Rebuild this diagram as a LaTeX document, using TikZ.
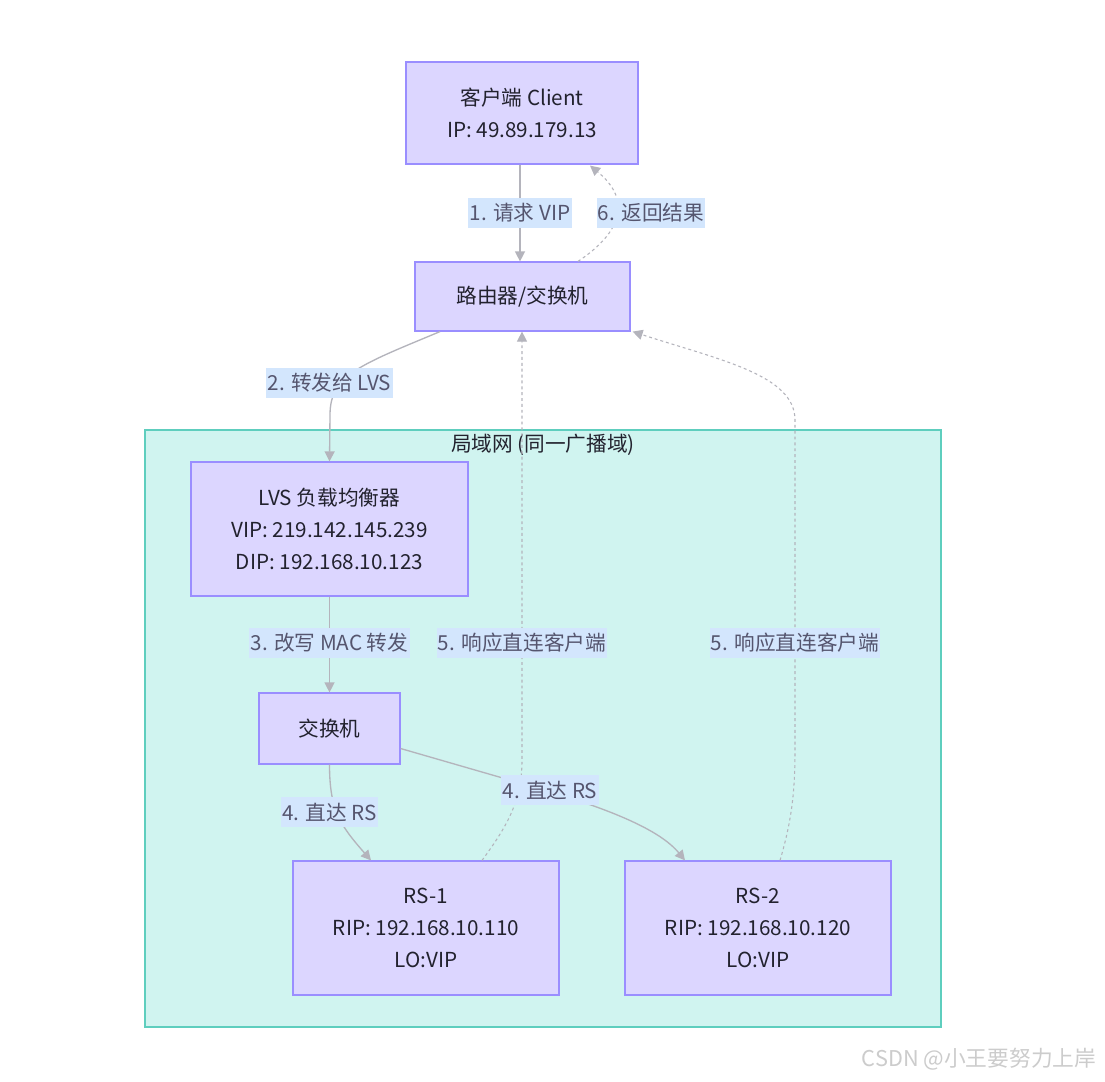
\documentclass[tikz,border=0pt]{standalone}
\usepackage{fontspec}
\setmainfont{Noto Sans CJK SC}
\usetikzlibrary{arrows.meta,calc}
\definecolor{nodefill}{HTML}{DCD6FF}
\definecolor{nodedraw}{HTML}{9A8EFF}
\definecolor{clusterfill}{HTML}{D0F4F0}
\definecolor{clusterdraw}{HTML}{5ECEBE}
\definecolor{labelbg}{HTML}{D3E6FD}
\definecolor{edgecol}{HTML}{B4B4BC}
\definecolor{nodetext}{HTML}{22222E}
\definecolor{labeltext}{HTML}{55556E}
\tikzset{
  box/.style={draw=nodedraw, fill=nodefill, line width=0.9pt, align=center,
    text=nodetext, font=\fontsize{15.5pt}{24pt}\selectfont, inner sep=0pt},
  elabel/.style={fill=labelbg, text=labeltext, font=\fontsize{15.5pt}{18pt}\selectfont,
    inner xsep=1pt, inner ysep=0pt, minimum height=23pt},
  solidedge/.style={draw=edgecol, line width=1pt, -{Triangle[length=7.5pt,width=7.5pt]}},
  dashedge/.style={draw=edgecol, line width=0.8pt, dash pattern=on 2.2pt off 2.2pt,
    -{Triangle[length=7.5pt,width=7.5pt,fill=edgecol]}},
}
\begin{document}
\begin{tikzpicture}[x=0.75pt,y=-0.75pt]
\useasboundingbox[fill=white] (0,0) rectangle (1105,1081);
% cluster
\node[draw=clusterdraw, fill=clusterfill, line width=0.8pt, minimum width=597pt, minimum height=447.75pt, inner sep=0pt] (lan) at (543,728.5) {};
\node[text=nodetext, font=\fontsize{15.5pt}{18pt}\selectfont] (lantitle) at (543,445) {局域网 (同一广播域)};
% nodes
\node[box, minimum width=174pt, minimum height=76.5pt] (client) at (522,113) {客户端 Client\\IP: 49.89.179.13};
\node[box, minimum width=161.25pt, minimum height=51.75pt] (router) at (522.5,296.5) {路由器/交换机};
\node[box, minimum width=207.75pt, minimum height=100.5pt] (lvs) at (329.5,529) {LVS 负载均衡器\\VIP: 219.142.145.239\\DIP: 192.168.10.123};
\node[box, minimum width=105.75pt, minimum height=53.25pt] (switch) at (329.5,728.5) {交换机};
\node[box, minimum width=199.5pt, minimum height=100.5pt] (rs1) at (426,928) {RS-1\\RIP: 192.168.10.110\\LO:VIP};
\node[box, minimum width=199.5pt, minimum height=100.5pt] (rs2) at (758,928) {RS-2\\RIP: 192.168.10.120\\LO:VIP};
% edges
\draw[solidedge] ($(client.south)+(-2,0)$) -- ($(router.north)+(-2.5,0)$);
\draw[dashedge] ($(router.north)+(55.5,0)$) .. controls (622,232) and (632,200) .. ($(client.south)+(68,1)$);
\draw[solidedge] ($(router.south)+(-82.5,0)$) .. controls (360,365) and (330,375) .. (330,415) -- (lvs.north);
\draw[solidedge] (lvs.south) -- (switch.north);
\draw[solidedge] (switch.south) .. controls (329.5,810) and (340,825) .. ($(rs1.north)+(-55,0)$);
\draw[solidedge] ($(switch.east)+(0,20)$) -- (520,783) .. controls (610,808) and (660,830) .. ($(rs2.north)+(-73,0)$);
\draw[dashedge] ($(rs1.north)+(56,0)$) .. controls (508,825) and (522,800) .. (522,760) -- ($(router.south)+(-0.5,0)$);
\draw[dashedge] ($(rs2.north)+(22,0)$) .. controls (792,820) and (795,790) .. (795,750) -- (795,420) .. controls (795,375) and (720,360) .. ($(router.south east)+(2,0)$);
% edge labels
\node[elabel] (l1) at (520,213) {1. 请求 VIP};
\node[elabel] (l6) at (651,213) {6. 返回结果};
\node[elabel] (l2) at (329.5,383) {2. 转发给 LVS};
\node[elabel] (l3) at (329.5,643) {3. 改写 MAC 转发};
\node[elabel] (l5a) at (522,643) {5. 响应直连客户端};
\node[elabel] (l5b) at (795,643) {5. 响应直连客户端};
\node[elabel] (l4a) at (329.5,812) {4. 直达 RS};
\node[elabel] (l4b) at (550,790) {4. 直达 RS};
% watermark
\node[text=black!20, font=\fontsize{16.3pt}{18pt}\selectfont, anchor=east] (wm) at (1101,1059) {CSDN @小王要努力上岸};
\end{tikzpicture}
\end{document}
